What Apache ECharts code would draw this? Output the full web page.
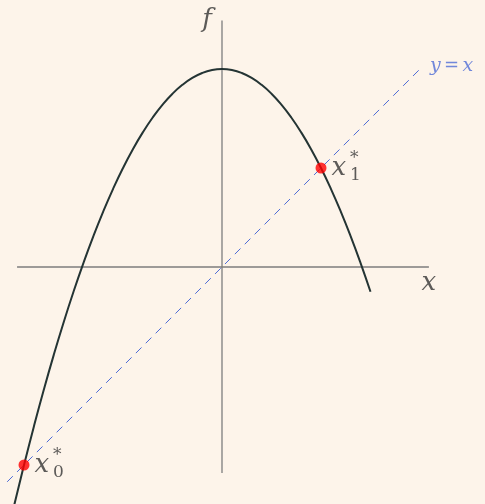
<!DOCTYPE html>
<html>
<head>
<meta charset="utf-8">
<script src="https://cdn.jsdelivr.net/npm/echarts@6/dist/echarts.min.js"></script>
<style>
  html, body { margin: 0; padding: 0; background: #fdf4ea; }
  #chart { width: 485px; height: 504px; }
</style>
</head>
<body>
<div id="chart"></div>
<script>
// curve f, points
var curveX = [-2.1, -2.0, -1.9, -1.8, -1.7, -1.6, -1.5, -1.4, -1.3, -1.2, -1.1, -1.0, -0.9, -0.8, -0.7, -0.6, -0.5, -0.4, -0.3, -0.2, -0.1, 0.0,
              0.1, 0.2, 0.3, 0.4, 0.5, 0.6, 0.7, 0.8, 0.9, 1.0, 1.1, 1.2, 1.3, 1.4, 1.5];
var curveY = [-2.41, -2.0, -1.61, -1.24, -0.89, -0.56, -0.25, 0.04, 0.31, 0.56, 0.79, 1.0, 1.19, 1.36, 1.51, 1.64, 1.75, 1.84, 1.91, 1.96, 1.99, 2.0,
              1.99, 1.96, 1.91, 1.84, 1.75, 1.64, 1.51, 1.36, 1.19, 1.0, 0.79, 0.56, 0.31, 0.04, -0.25];
// diagonal y = x
var diagX = [-2.17, 2.0];
var diagY = [-2.17, 2.0];
// axes extents
var xAxisEnds = [-2.07, 2.09];
var yAxisEnds = [-2.08, 2.49];
// fixed points
var fixedX = [1.0, -2.0];
var fixedY = [1.0, -2.0];
var fixedSub = ['1', '0'];

var chart = echarts.init(document.getElementById('chart'));

var serif = 'DejaVu Serif';
var ink = '#333333';
var blue = '#4d6bd6';

var curveData = curveX.map(function (x, i) { return [x, curveY[i]]; });
var diagData = diagX.map(function (x, i) { return [x, diagY[i]]; });
var fixedData = fixedX.map(function (x, i) { return [x, fixedY[i]]; });

// text anchored to the ends of axes and of the diagonal
var textData = [
  { value: [xAxisEnds[1], 0], label: { position: 'bottom', distance: 3, offset: [0, 0], formatter: '{i|x}' } },
  { value: [0, yAxisEnds[1]], label: { position: 'left', distance: 10, offset: [0, 0], formatter: '{i|f}' } },
  { value: [diagX[1], diagY[1]], label: { position: 'right', distance: 10, offset: [0, -3], formatter: '{b|y} {c|=} {b|x}' } }
];

var option = {
  backgroundColor: '#fdf4ea',
  animation: false,
  grid: { left: 0, right: 0, top: 0, bottom: 0 },
  xAxis: { type: 'value', min: -2.2424, max: 2.6566, show: false },
  yAxis: { type: 'value', min: -2.3939, max: 2.6970, show: false },
  series: [
    {
      type: 'line', silent: true, symbol: 'none',
      lineStyle: { color: '#7d7d7d', width: 1.3 },
      data: [[xAxisEnds[0], 0], [xAxisEnds[1], 0]]
    },
    {
      type: 'line', silent: true, symbol: 'none',
      lineStyle: { color: '#7d7d7d', width: 1.3 },
      data: [[0, yAxisEnds[0]], [0, yAxisEnds[1]]]
    },
    {
      type: 'line', silent: true, symbol: 'none',
      lineStyle: { color: blue, width: 1, type: [8, 6] },
      data: diagData
    },
    {
      type: 'line', silent: true, symbol: 'none', smooth: true,
      lineStyle: { color: '#243434', width: 2 },
      data: curveData
    },
    {
      type: 'scatter', silent: true, symbolSize: 0,
      label: {
        show: true,
        rich: {
          i: { fontFamily: serif, fontStyle: 'italic', fontSize: 26, color: ink },
          b: { fontFamily: serif, fontStyle: 'italic', fontSize: 19, color: blue },
          c: { fontFamily: serif, fontSize: 18, color: blue }
        }
      },
      data: textData
    },
    {
      type: 'scatter', silent: true, symbolSize: 11,
      itemStyle: { color: '#ff0000' },
      label: {
        show: true, position: 'right', distance: 5, offset: [0, 0],
        formatter: 'x', fontFamily: serif, fontStyle: 'italic', fontSize: 26, color: ink
      },
      data: fixedData,
      z: 5
    },
    {
      type: 'scatter', silent: true, symbolSize: 0,
      label: {
        show: true, position: 'right', distance: 0, offset: [29, 0],
        formatter: function (p) { return '{s|*}\n{n|' + fixedSub[p.dataIndex] + '}'; },
        rich: {
          s: { fontFamily: serif, fontSize: 17, color: ink, lineHeight: 15 },
          n: { fontFamily: serif, fontSize: 17, color: ink, lineHeight: 18 }
        }
      },
      data: fixedData,
      z: 6
    }
  ]
};
chart.setOption(option);
</script>
</body>
</html>
